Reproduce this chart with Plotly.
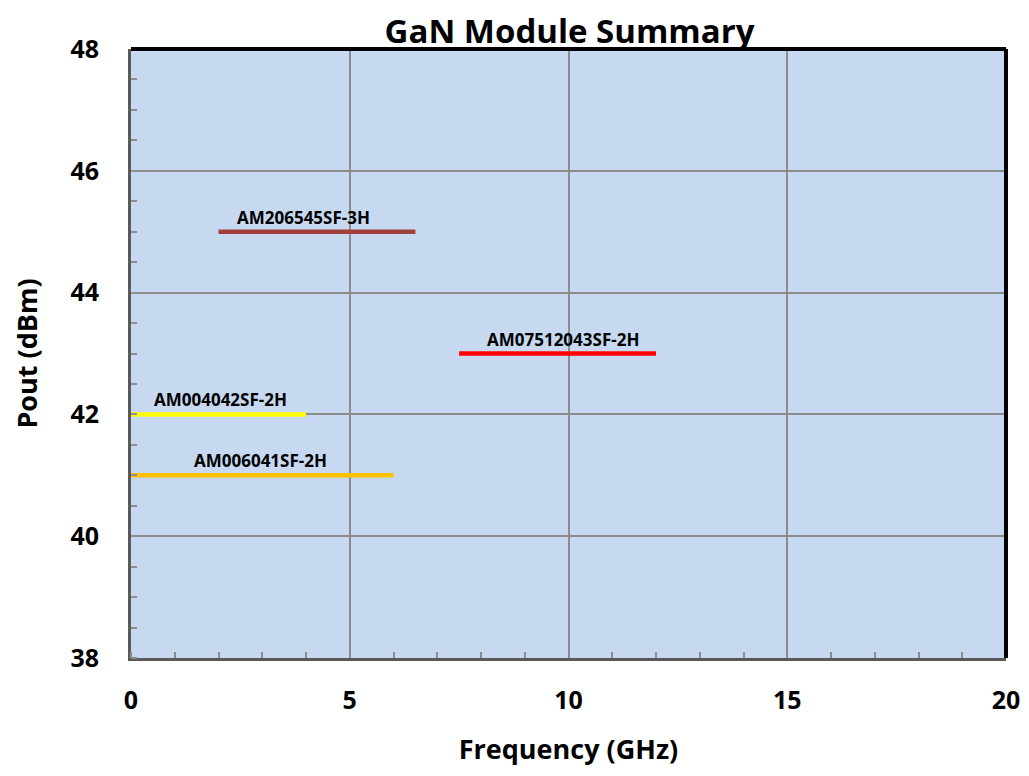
import plotly.graph_objects as go

# Data
modules = ["AM206545SF-3H", "AM07512043SF-2H", "AM004042SF-2H", "AM006041SF-2H"]
freq_start = [2.0, 7.5, 0.0, 0.0]
freq_stop = [6.5, 12.0, 4.0, 6.0]
pout = [45.0, 43.0, 42.0, 41.0]
label_x = [3.94, 9.87, 2.05, 2.95]
colors = ["#A0403C", "#FF0000", "#FFFF00", "#FFC000"]

x_ticks = [0, 5, 10, 15, 20]
y_ticks = [38, 40, 42, 44, 46, 48]

font_family = "Open Sans, Liberation Sans, sans-serif"

fig = go.Figure()
for name, xs, xe, p, c in zip(modules, freq_start, freq_stop, pout, colors):
    fig.add_trace(go.Scatter(x=[xs, xe], y=[p, p], mode="lines",
                             line=dict(color=c, width=4.5), name=name,
                             showlegend=False, hoverinfo="name"))

for name, lx, p in zip(modules, label_x, pout):
    fig.add_annotation(x=lx, y=p, text="<b>" + name + "</b>", showarrow=False,
                       xanchor="center", yanchor="bottom", yshift=1,
                       font=dict(family=font_family, size=17, color="black"))

# page body has an 8px margin, so the figure is sized/offset to compensate
fig.update_layout(
    width=1021, height=768,
    margin=dict(l=123, r=23, t=41, b=118),
    paper_bgcolor="white",
    plot_bgcolor="#C6D9F0",
    title=dict(text="<b>GaN Module Summary</b>", x=0.550, xanchor="center",
               y=0.969, yanchor="middle",
               font=dict(family=font_family, size=33, color="black")),
    font=dict(family=font_family, color="black"),
)

fig.update_xaxes(
    range=[0, 20], tickvals=x_ticks, ticktext=["<b>%d</b>" % v for v in x_ticks],
    showgrid=True, gridcolor="#8C8C8C", gridwidth=1.5, automargin=False,
    zeroline=False, showline=True, linecolor="#5A5A5A", linewidth=3,
    ticks="", ticklabelstandoff=18,
    tickfont=dict(family=font_family, size=25, color="black"),
    minor=dict(dtick=1, ticks="inside", ticklen=6, tickcolor="#8C8C8C",
               tickwidth=1.5, showgrid=False),
    title=dict(text="<b>Frequency (GHz)</b>", standoff=26,
               font=dict(family=font_family, size=27, color="black")),
)
fig.update_yaxes(
    range=[38, 48], tickvals=y_ticks, ticktext=["<b>%d</b>" % v for v in y_ticks],
    showgrid=True, gridcolor="#8C8C8C", gridwidth=1.5, automargin=False,
    zeroline=False, showline=True, linecolor="#5A5A5A", linewidth=3,
    ticks="", ticklabelstandoff=24,
    tickfont=dict(family=font_family, size=25, color="black"),
    minor=dict(dtick=0.5, ticks="inside", ticklen=6, tickcolor="#8C8C8C",
               tickwidth=1.5, showgrid=False),
    title=dict(text="<b>Pout (dBm)</b>", standoff=29,
               font=dict(family=font_family, size=27, color="black")),
)

# Black top and right frame edges
fig.add_shape(type="line", xref="paper", yref="paper", x0=0, x1=1, y0=1, y1=1,
              line=dict(color="black", width=4))
fig.add_shape(type="line", xref="paper", yref="paper", x0=1, x1=1, y0=0, y1=1,
              line=dict(color="black", width=4))

fig.write_html("out.html")
